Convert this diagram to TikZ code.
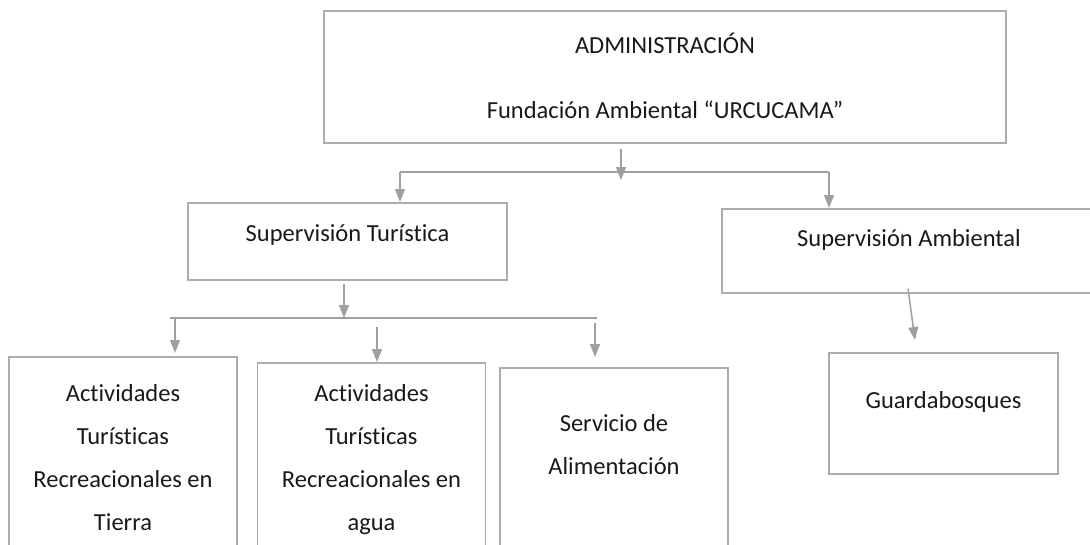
\documentclass[tikz,border=0pt]{standalone}
\usepackage{fontspec}
\setmainfont{Carlito}[Ligatures=CommonOff]
\usetikzlibrary{arrows.meta}
\definecolor{boxgray}{RGB}{172,172,172}
\definecolor{linkgray}{RGB}{160,160,160}
\definecolor{inkgray}{RGB}{25,25,25}

\begin{document}
\begin{tikzpicture}[x=1pt,y=-1pt,>={Triangle[width=10pt,length=13pt]}]
                \tikzstyle{unit}=[draw=boxgray,line width=1.6pt,anchor=north,align=flush center,inner sep=0pt,text=inkgray,font=\fontsize{24.5}{43}\selectfont]
                \tikzstyle{link}=[draw=linkgray,line width=1.5pt]

                \useasboundingbox (0,0) rectangle (1090,544);
                \clip (0,0) rectangle (1090,544);

                % Draw the administration box
                \node[unit,text width=682pt,text height=43pt,text depth=89pt] (adm) at (665,10)
                    {ADMINISTRACIÓN\\[22pt]Fundación Ambiental “URCUCAMA”};

                % Draw the two supervision boxes
                \node[unit,text width=319pt,text height=39pt,text depth=38pt] (tur) at (347.5,202) {Supervisión Turística};
                \node[unit,text width=374pt,text height=38pt,text depth=46pt] (amb) at (909,208) {Supervisión Ambiental};

                % Draw the bottom boxes (cut off by the page)
                \foreach \name / \x / \y / \h / \txt in {act1/123/356/45/{Actividades\\Turísticas\\Recreacionales en\\Tierra},
                                                         act2/371.5/362/39/{Actividades\\Turísticas\\Recreacionales en\\agua},
                                                         serv/614/367/64/{Servicio de\\Alimentación}}
                    \node[unit,text width=228pt,text height=\h pt,text depth=220pt] (\name) at (\x,\y) {\txt};
                \node[unit,text width=229pt,text height=56pt,text depth=65pt] (guard) at (943.5,352) {Guardabosques};

                % Connect the administration with both supervisions
                \coordinate (fork1) at (621,172);
                \coordinate (bus1 w) at (400,172);
                \coordinate (bus1 e) at (829,172);
                \draw[link,->] ([yshift=-5pt]adm.south -| fork1) -- ([yshift=-8pt]fork1);
                \draw[link] (bus1 w) -- (bus1 e);
                \draw[link,->] (bus1 w) -- (bus1 w |- tur.north);
                \draw[link,->] (bus1 e) -- (bus1 e |- amb.north);

                % Connect the tourist supervision with its three areas
                \coordinate (fork2) at (344,318);
                \coordinate (bus2 w) at (170,318);
                \coordinate (bus2 e) at (597,318);
                \draw[link,->] ([yshift=-3pt]tur.south -| fork2) -- (fork2);
                \draw[link] (bus2 w) -- (bus2 e);
                \foreach \dest / \x / \y / \gap in {act1/175/318/3,act2/377/327/0,serv/595/323/10}
                    \draw[link,->,shorten >=\gap pt] (\x,\y) -- (\x,0 |- \dest.north);

                % Connect the environmental supervision with the rangers
                \draw[link,->] ([yshift=5pt]amb.south -| 908,0) -- ([yshift=12pt]guard.north -| 915,0);
            \end{tikzpicture}
\end{document}
